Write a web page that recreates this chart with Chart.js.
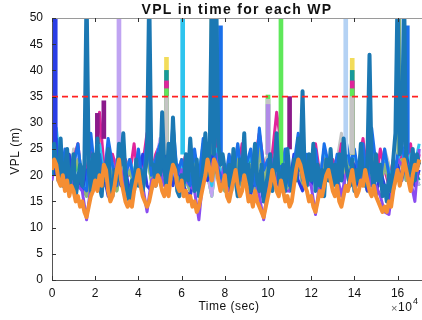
<!DOCTYPE html>
<html>
<head>
<meta charset="utf-8">
<script src="https://cdn.jsdelivr.net/npm/chart.js@4.4.0/dist/chart.umd.min.js"></script>
<style>html,body{margin:0;padding:0;background:#fff;}canvas{display:block;}</style>
</head>
<body>
<canvas id="c" width="422" height="320"></canvas>
<script>
// ---- text ----
const TITLE = 'VPL in time for each WP';
const X_LABEL = 'Time (sec)';
const Y_LABEL = 'VPL (m)';
const X_EXP = '4';

// ---- ticks ----
const xTickValues = [0, 20000, 40000, 60000, 80000, 100000, 120000, 140000, 160000];
const yTickValues = [0, 5, 10, 15, 20, 25, 30, 35, 40, 45, 50];
const threshold = 35;

// sampling grids (seconds)
const tFine = Array.from({length: 171}, (_, i) => i * 1000);
const tCoarse = Array.from({length: 86}, (_, j) => j * 2000);

// ---- main series (1000 s sampling) ----
const wpBlue = [
20,26,22,19,27,18,21,25,17,20,
24,16,19,22,18,22,55,21,17,24,
19,27,18,16,22,20,25,18,16,21,
19,26,22,28,20,16,15,19,17,23,
18,21,17,20,24,55,22,22,18,24,
20,32,21,18,26,19,31,22,17,16,
20,18,24,19,27,21,17,23,16,18,
22,28,20,24,55,24,55,26,22,24,
21,18,22,17,25,19,16,23,20,28,
18,22,17,21,26,19,17,22,15,18,
20,24,17,21,28,19,18,22,17,25,
20,17,23,19,27,21,36,20,18,24,
19,26,17,22,18,21,16,23,19,25,
18,22,17,24,19,27,22,20,18,23,
17,21,19,26,20,18,22,43,21,17,
24,19,22,16,18,15,20,17,23,28,
55,24,26,55,22,20,20,25,19,24,
22];
const wpOrange = [
21,23,22,19,18,20,17,19,16,18,
17,15,16,14,15,13,12,14,16,17,
19,17,20,18,22,21,17,15,16,18,
21,23,19,17,15,14,15,14,17,19,
21,18,16,15,14,15,17,19,18,20,
19,17,16,18,16,20,22,21,18,17,
19,16,17,15,16,14,15,13,14,16,
18,20,23,21,19,23,22,19,17,18,
20,16,15,17,19,21,18,16,17,20,
18,15,16,14,17,15,14,13,12,14,
16,18,21,19,17,16,19,17,15,16,
14,15,18,21,23,22,20,18,17,15,
16,14,13,15,17,16,18,20,21,19,
17,16,18,15,14,16,18,17,19,21,
18,16,17,19,18,21,19,17,16,18,
16,15,14,13,14,13,15,14,17,19,
21,18,20,23,21,19,17,20,22,21,
23];

// ---- other WPs (2000 s sampling) ----
const wpDarkBlue = [
20,24,22,19,24,18,20,17,21,19,
23,18,20,16,19,22,18,21,17,20,
19,24,18,17,21,19,25,20,18,22,
19,17,16,20,18,22,19,24,21,18,
20,17,22,19,23,18,16,21,19,15,
18,22,19,17,21,18,24,19,17,20,
18,22,17,19,23,20,18,21,17,19,
22,18,20,17,19,16,21,18,15,19,
22,19,24,20,18,21];
const wpPurple = [
19,24,20,19,18,19,18,17,11.5,18,
21,22,19,19,18,23,21,17,17,19,
23,18,13,19,20,21,18,18,24,20,
21,19,18,17,11.5,20,25,21,24,19,
22,17,21,20,19,20,18,19,16,11.5,
18,23,19,21,17,17,20,25,22,19,
18,12.5,19,20,23,19,20,16,20,21,
20,19,20,21,18,18,16,13,12.5,19,
23,22,23,19,15,25];
const wpMagenta = [
22,27,20,24,19,23,26,18,21,25,
20,32,22,19,24,21,18,23,20,26,
19,22,28,20,24,26,24,21,22,19,
21,24,18,22,20,25,19,23,27,20,
22,18,24,20,26,21,19,23,28,22,
20,24,32,26,21,19,23,20,25,18,
22,26,20,24,19,23,21,26,20,23,
22,22,27,20,24,19,25,21,18,23,
20,25,22,26,19,24];
const wpYellow = [
23,26,21,24,19,22,25,20,18,23,
21,27,20,24,22,19,25,21,23,20,
24,19,26,21,23,25,23,21,22,20,
23,21,19,24,20,26,22,18,25,21,
19,23,21,25,20,22,24,19,27,21,
23,20,25,21,24,19,22,26,20,23,
21,24,19,25,22,20,23,21,25,22,
21,21,24,19,26,22,20,24,21,19,
23,25,21,24,22,20];
const wpTeal = [
21,24,19,23,18,21,24,19,17,22,
20,25,19,22,21,18,24,20,22,19,
23,18,25,20,22,24,22,20,21,19,
22,20,18,23,19,25,21,17,24,20,
18,22,20,24,19,21,23,18,26,20,
22,19,24,20,23,18,21,25,19,22,
20,23,18,24,21,19,22,20,24,21,
20,20,23,18,25,21,19,23,20,18,
22,24,20,23,21,19];
const wpGray = [
24,26,20,23,19,25,22,18,24,21,
23,26,20,24,21,19,25,21,22,20,
24,19,26,21,23,25,25,22,22,20,
23,21,19,24,20,25,22,18,27,21,
19,24,21,26,20,22,24,19,28,22,
24,21,25,22,24,19,22,26,20,23,
21,25,19,24,22,20,23,28,22,24,
23,22,25,20,24,22,21,25,22,19,
23,25,21,24,22,23];
const wpGreen = [
20,23,18,21,17,20,22,18,16,21,
19,24,18,21,20,17,22,19,21,18,
22,17,24,19,21,23,22,20,20,18,
21,19,17,22,18,24,20,16,23,19,
17,21,19,23,18,20,22,17,25,19,
20,18,23,21,20,17,20,24,18,21,
19,22,17,23,20,18,21,19,23,21,
20,19,22,17,24,20,18,22,19,17,
21,23,19,22,20,18];
const wpLavender = [
21,25,19,23,18,22,24,19,17,22,
20,26,19,23,21,20,22,20,22,19,
23,18,25,20,22,27,21,19,21,18,
21,19,17,22,18,24,20,16,23,19,
17,21,19,23,18,20,22,17,25,19,
22,18,23,20,24,17,20,24,18,21,
19,22,17,23,20,18,21,19,23,20,
22,19,22,17,24,20,18,22,19,17,
21,23,19,22,20,18];
const wpCyan = [
22,29,20,24,19,23,25,20,18,23,
21,26,20,24,22,19,25,21,23,20,
24,19,26,21,23,25,22,20,27,21,
22,21,19,24,20,26,22,18,25,21,
19,23,21,25,20,22,24,19,27,21,
23,20,25,21,24,19,22,26,20,23,
21,24,19,25,22,20,23,21,25,22,
24,21,24,19,26,22,20,24,21,19,
23,25,21,24,22,26];
const wpLightBlue = [
20,24,18,22,17,21,23,18,16,21,
19,24,18,22,20,17,23,19,21,18,
22,17,24,19,21,23,20,18,25,19,
21,19,17,22,18,24,20,16,23,19,
17,21,19,23,18,20,22,17,25,19,
22,18,23,20,24,17,20,24,18,21,
19,22,17,23,20,18,21,19,22,24,
22,19,22,17,24,20,18,22,19,17,
21,23,19,22,20,18];
const wpBrightBlue = [
21,27,19,25,18,22,26,18,17,28,
20,24,19,27,22,18,25,20,23,19,
25,18,27,20,23,26,21,19,30,20,
23,20,18,25,19,27,22,30,22,20,
18,24,20,26,19,22,25,18,29,21,
23,19,26,20,25,18,22,28,19,24,
20,25,18,26,22,19,24,20,27,22,
25,20,26,18,29,22,19,25,20,18,
24,26,21,22,21,22];
const wpGreenGray = [
20,24,18,22,17,21,23,18,16,21,
19,24,18,22,20,17,23,19,21,18,
22,17,24,19,21,23,20,18,25,19,
21,19,17,22,18,24,20,19,22,19,
17,21,19,23,18,20,22,17,25,19,
22,18,23,20,24,17,20,24,18,21,
19,22,17,23,20,18,21,19,23,20,
22,19,22,17,24,20,18,22,19,17,
21,23,19,22,20,21];

// ---- short VPL excursions (vertical spikes) of individual WPs ----
const spikeTime = [1500, 21000, 24000, 31000,
  53000, 53000, 53000, 53000, 53000,
  60500, 74000, 78000,
  100000, 100000, 100000,
  106000, 110000, 136000,
  139000, 139000, 139000, 139000, 139000,
  160500, 164500];
const spikeLow = [20, 26, 27, 24,
  24, 24, 24, 24, 24,
  24, 24, 24,
  24, 24, 24,
  22, 25, 24,
  24, 24, 24, 24, 24,
  24, 24];
const spikeHigh = [55, 31.8, 34.2, 55,
  42.5, 40, 38, 36.5, 35,
  55, 55, 48.5,
  35.3, 34.5, 33.5,
  55, 35, 55,
  42.3, 40, 38, 36.5, 35,
  55, 48.5];
const spikeColor = ['#2a3ee6', '#8b1a8b', '#8b1a8b', '#c0a4f2',
  '#f2dc5a', '#179a9a', '#e0259a', '#5fe85a', '#c4c4c4',
  '#2ec4ee', '#8fb57a', '#1a70ea',
  '#5fe85a', '#c4c4c4', '#b08ae8',
  '#5fe85a', '#8b1a8b', '#b4d2f4',
  '#f2dc5a', '#179a9a', '#e0259a', '#5fe85a', '#c4c4c4',
  '#8fb57a', '#1a70ea'];

const pts = (times, vals) => vals.map((v, k) => ({x: times[k], y: v}));
const bg = (vals, color) => ({
  data: pts(tCoarse, vals), borderColor: color, borderWidth: 3,
  pointRadius: 0, tension: 0, order: 5, clip: 0, borderJoinStyle: 'round'
});

const datasets = [
  {data: [{x: 0, y: threshold}, {x: 180000, y: threshold}], borderColor: '#ff2020', borderWidth: 1.6,
   borderDash: [6, 4], pointRadius: 0, order: 0, clip: 0},
  {data: pts(tFine, wpOrange), borderColor: '#f58e33', borderWidth: 4, pointRadius: 0, tension: 0, order: 1, clip: 0, borderJoinStyle: 'round'},
  {data: pts(tFine, wpBlue), borderColor: '#1b78b3', borderWidth: 4, pointRadius: 0, tension: 0, order: 2, clip: 0, borderJoinStyle: 'round'},
  {type: 'bar', data: spikeTime.map((t, k) => ({x: t, y: [spikeLow[k], spikeHigh[k]]})),
   backgroundColor: spikeColor, borderWidth: 0, barThickness: 4, order: 4, clip: 0},
  bg(wpBrightBlue, '#1a70ea'),
  bg(wpPurple, '#8a4cf0'),
  bg(wpDarkBlue, '#2a3ee6'),
  bg(wpGreenGray, '#8fb57a'),
  bg(wpCyan, '#2ec4ee'),
  bg(wpLavender, '#c0a4f2'),
  bg(wpGreen, '#5fe85a'),
  bg(wpMagenta, '#e0259a'),
  bg(wpTeal, '#179a9a'),
  bg(wpYellow, '#f2dc5a'),
  bg(wpLightBlue, '#b4d2f4'),
  bg(wpGray, '#c4c4c4')
];

const deco = {
  id: 'deco',
  afterDraw(chart) {
    const {ctx, chartArea: a, scales: {x, y}} = chart;
    ctx.save();
    ctx.lineWidth = 1;
    ctx.strokeStyle = '#9a9a9a';
    ctx.beginPath();
    ctx.moveTo(a.left, a.top + 0.5); ctx.lineTo(a.right, a.top + 0.5);
    ctx.stroke();
    ctx.strokeStyle = '#333';
    ctx.beginPath();
    xTickValues.forEach(v => {
      const px = Math.round(x.getPixelForValue(v)) + 0.5;
      ctx.moveTo(px, a.bottom); ctx.lineTo(px, a.bottom - 4);
      ctx.moveTo(px, a.top); ctx.lineTo(px, a.top + 4);
    });
    yTickValues.forEach(v => {
      const py = Math.round(y.getPixelForValue(v)) + 0.5;
      ctx.moveTo(a.left, py); ctx.lineTo(a.left + 4, py);
    });
    ctx.stroke();
    ctx.fillStyle = '#111';
    ctx.textAlign = 'center';
    ctx.textBaseline = 'middle';
    ctx.font = 'bold 14px "Liberation Sans", Arial, sans-serif';
    ctx.letterSpacing = '1.3px';
    ctx.fillText(TITLE, (a.left + a.right) / 2, 10);
    ctx.letterSpacing = '0.5px';
    ctx.font = '12px "Liberation Sans", Arial, sans-serif';
    ctx.fillText(X_LABEL, (a.left + a.right) / 2 - 8, 307);
    ctx.save();
    ctx.translate(16, (a.top + a.bottom) / 2 + 2);
    ctx.rotate(-Math.PI / 2);
    ctx.fillText(Y_LABEL, 0, 0);
    ctx.restore();
    ctx.textAlign = 'left';
    ctx.fillStyle = '#666';
    ctx.font = '11px "Liberation Sans", Arial, sans-serif';
    ctx.fillText('\u00d7', 391, 309);
    ctx.fillStyle = '#111';
    ctx.font = '12px "Liberation Sans", Arial, sans-serif';
    ctx.fillText('10', 398, 308);
    ctx.font = '9px "Liberation Sans", Arial, sans-serif';
    ctx.fillText(X_EXP, 413, 302);
    ctx.restore();
  }
};

Chart.defaults.font.family = '"Liberation Sans", Arial, sans-serif';
Chart.defaults.font.size = 12;
Chart.defaults.color = '#111';

new Chart(document.getElementById('c'), {
  type: 'line',
  data: {datasets},
  options: {
    responsive: false,
    animation: false,
    events: [],
    layout: {padding: {top: 18, left: 0, right: 0, bottom: 0}},
    plugins: {legend: {display: false}, tooltip: {enabled: false}, title: {display: false}},
    scales: {
      x: {
        type: 'linear', min: 0, max: 171300, offset: false,
        afterFit: s => { s.height = 40; },
        afterBuildTicks: s => { s.ticks = xTickValues.map(v => ({value: v})); },
        ticks: {callback: v => String(v / 10000), maxRotation: 0, autoSkip: false, padding: 6, color: '#111'},
        grid: {drawOnChartArea: false, drawTicks: false, offset: false},
        border: {display: true, color: '#555', width: 1}
      },
      y: {
        type: 'linear', min: 0, max: 50,
        afterFit: s => { s.width = 52; },
        afterBuildTicks: s => { s.ticks = yTickValues.map(v => ({value: v})); },
        ticks: {padding: 9, color: '#111'},
        grid: {drawOnChartArea: false, drawTicks: false},
        border: {display: true, color: '#555', width: 1}
      }
    }
  },
  plugins: [deco]
});
</script>
</body>
</html>
